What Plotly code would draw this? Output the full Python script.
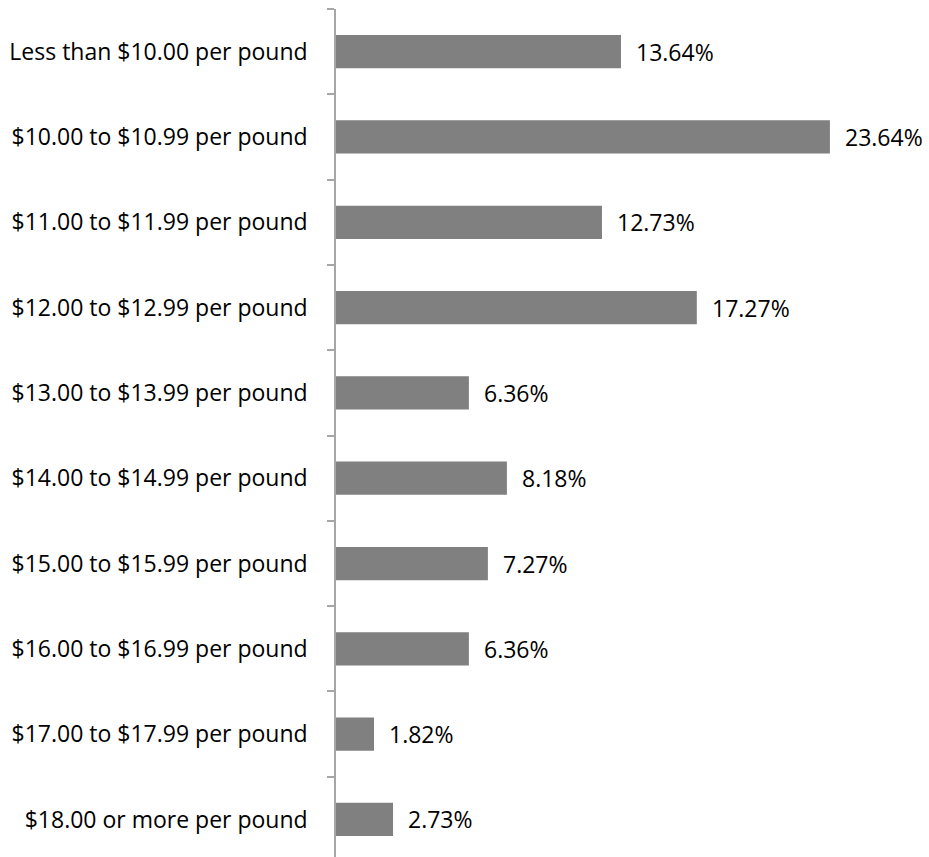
import plotly.graph_objects as go

categories = [
    "Less than $10.00 per pound",
    "$10.00 to $10.99 per pound",
    "$11.00 to $11.99 per pound",
    "$12.00 to $12.99 per pound",
    "$13.00 to $13.99 per pound",
    "$14.00 to $14.99 per pound",
    "$15.00 to $15.99 per pound",
    "$16.00 to $16.99 per pound",
    "$17.00 to $17.99 per pound",
    "$18.00 or more per pound",
]
shares = [13.64, 23.64, 12.73, 17.27, 6.36, 8.18, 7.27, 6.36, 1.82, 2.73]

pos = list(range(len(categories)))
font = "'Open Sans', Arial, sans-serif"

fig = go.Figure(go.Bar(
    x=shares, y=pos, orientation="h",
    marker=dict(color="#808080", line=dict(width=0)),
    width=0.39, hoverinfo="skip",
))

for p, v in zip(pos, shares):
    fig.add_annotation(x=v, y=p, text=f"{v:.2f}%", showarrow=False,
                       xanchor="left", xshift=13, font=dict(size=23, color="#000000"))

fig.update_layout(
    width=929, height=857,
    margin=dict(l=336, r=8, t=9, b=0),
    plot_bgcolor="white", paper_bgcolor="white",
    font=dict(family=font, size=23, color="#000000"),
    showlegend=False,
    xaxis=dict(range=[0, 28], visible=False, fixedrange=True),
    yaxis=dict(
        range=[9.44, -0.5], fixedrange=True,
        tickmode="array", tickvals=pos, ticktext=categories,
        ticks="", ticklabelstandoff=22,
        showline=True, linecolor="#A6A6A6", linewidth=1.5,
        showgrid=False, zeroline=False,
        minor=dict(tickmode="array", tickvals=[i - 0.5 for i in range(len(categories) + 1)],
                   ticks="outside", ticklen=7, tickcolor="#A6A6A6", tickwidth=1.5,
                   showgrid=False),
    ),
)

fig.write_html("out.html", config={"displayModeBar": False},
               post_script="document.body.style.margin='0';")
